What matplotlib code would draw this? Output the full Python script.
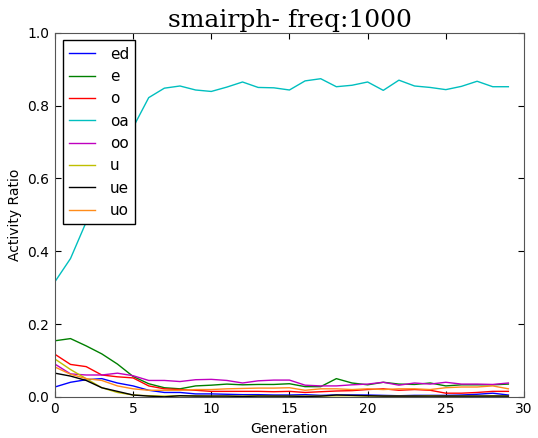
import matplotlib
matplotlib.use("Agg")
import matplotlib.pyplot as plt
import numpy as np

generations = list(range(30))

ed = [0.027, 0.040, 0.047, 0.050, 0.038, 0.030, 0.018, 0.012, 0.012, 0.008,
      0.008, 0.007, 0.006, 0.006, 0.005, 0.005, 0.006, 0.004, 0.005, 0.005,
      0.005, 0.004, 0.003, 0.004, 0.004, 0.004, 0.005, 0.007, 0.010, 0.005]
e = [0.154, 0.160, 0.140, 0.118, 0.090, 0.056, 0.036, 0.025, 0.022, 0.030,
     0.032, 0.035, 0.033, 0.034, 0.034, 0.036, 0.028, 0.028, 0.050, 0.038,
     0.033, 0.040, 0.035, 0.034, 0.038, 0.030, 0.033, 0.033, 0.033, 0.035]
o = [0.117, 0.089, 0.083, 0.060, 0.055, 0.052, 0.030, 0.022, 0.020, 0.018,
     0.015, 0.015, 0.015, 0.015, 0.014, 0.015, 0.012, 0.014, 0.016, 0.017,
     0.020, 0.022, 0.018, 0.020, 0.018, 0.010, 0.010, 0.012, 0.015, 0.015]
oa = [0.316, 0.380, 0.480, 0.570, 0.660, 0.740, 0.822, 0.848, 0.854, 0.843,
      0.839, 0.851, 0.865, 0.850, 0.849, 0.843, 0.868, 0.874, 0.852, 0.856,
      0.865, 0.842, 0.870, 0.854, 0.850, 0.844, 0.853, 0.867, 0.852, 0.852]
oo = [0.090, 0.063, 0.060, 0.060, 0.065, 0.058, 0.045, 0.045, 0.042, 0.047,
      0.048, 0.045, 0.038, 0.044, 0.046, 0.046, 0.032, 0.030, 0.030, 0.033,
      0.035, 0.040, 0.032, 0.038, 0.035, 0.040, 0.035, 0.035, 0.034, 0.038]
u = [0.104, 0.075, 0.050, 0.025, 0.012, 0.005, 0.003, 0.002, 0.003, 0.003,
     0.002, 0.002, 0.002, 0.003, 0.002, 0.002, 0.002, 0.002, 0.003, 0.003,
     0.002, 0.002, 0.002, 0.002, 0.003, 0.002, 0.002, 0.002, 0.003, 0.002]
ue = [0.065, 0.057, 0.045, 0.025, 0.015, 0.005, 0.002, 0.000, 0.003, 0.002,
      0.002, 0.002, 0.001, 0.002, 0.002, 0.002, 0.001, 0.002, 0.005, 0.004,
      0.003, 0.002, 0.002, 0.002, 0.002, 0.002, 0.002, 0.002, 0.002, 0.002]
uo = [0.082, 0.062, 0.050, 0.045, 0.030, 0.022, 0.018, 0.018, 0.018, 0.020,
      0.020, 0.022, 0.023, 0.024, 0.024, 0.025, 0.018, 0.022, 0.022, 0.020,
      0.022, 0.020, 0.022, 0.022, 0.020, 0.025, 0.027, 0.027, 0.030, 0.022]

series = [("ed", ed, "#0000ff"), ("e", e, "#008000"), ("o", o, "#ff0000"),
          ("oa", oa, "#00bfbf"), ("oo", oo, "#bf00bf"), ("u", u, "#bfbf00"),
          ("ue", ue, "#000000"), ("uo", uo, "#ff8c1a")]

fig = plt.figure(figsize=(5.38, 4.38), dpi=100)
ax = fig.add_axes([0.102, 0.094, 0.872, 0.831])

for name, vals, col in series:
    ax.plot(generations, vals, color=col, lw=1.0, label=name)

ax.set_xlim(0, 30)
ax.set_ylim(0, 1.0)
ax.set_xticks([0, 5, 10, 15, 20, 25, 30])
ax.set_yticks([0.0, 0.2, 0.4, 0.6, 0.8, 1.0])
ax.tick_params(direction="in", top=True, right=True, labelsize=10, length=4, pad=4)
for sp in ax.spines.values():
    sp.set_color("#555555")
ax.set_xlabel("Generation", fontsize=10)
ax.set_ylabel("Activity Ratio", fontsize=10)
ax.set_title("smairph- freq:1000", fontsize=18, family="DejaVu Serif", pad=4)

leg = ax.legend(loc="upper left", fontsize=11, fancybox=False, framealpha=1,
                edgecolor="black", borderaxespad=0.5, labelspacing=0.48,
                handlelength=1.7, handletextpad=1.0, borderpad=0.4)
leg.get_frame().set_linewidth(1.0)

fig.savefig("out.png", dpi=100)
